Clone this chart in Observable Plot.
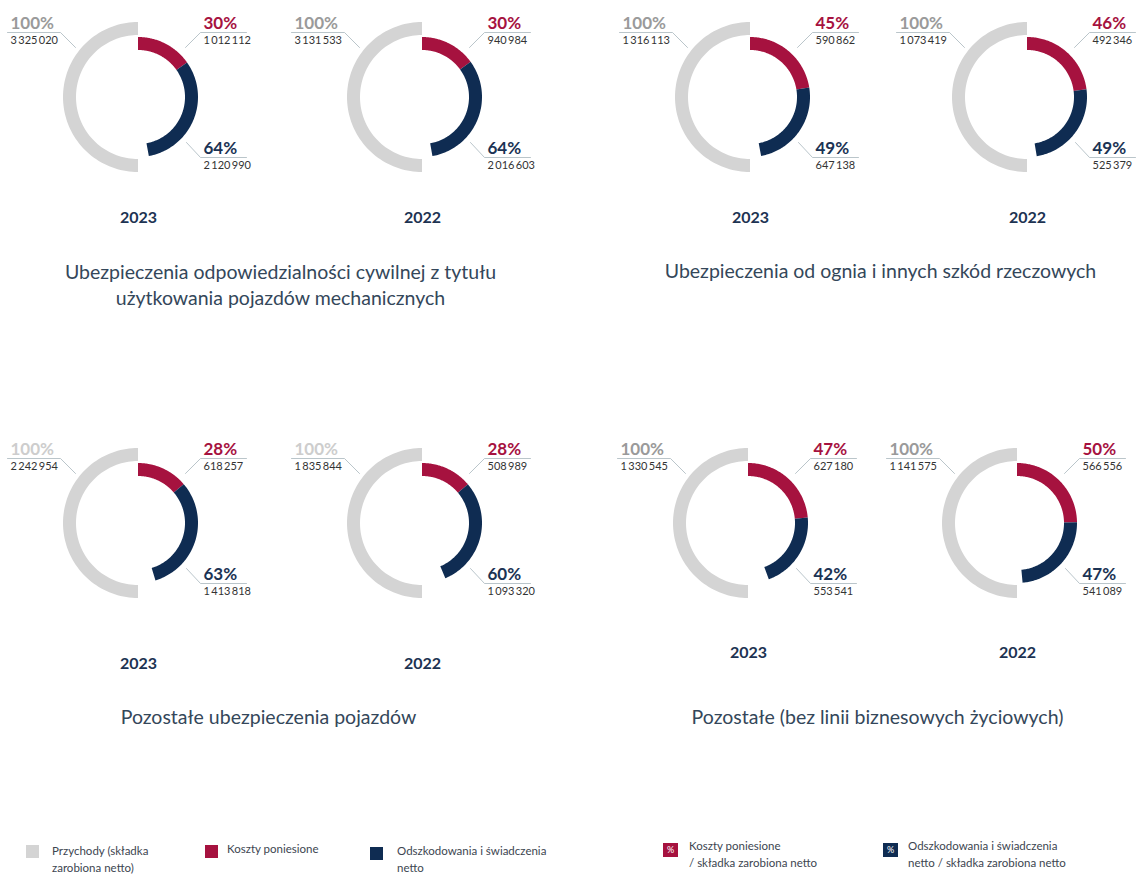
<!DOCTYPE html>
<html>
<head>
<meta charset="utf-8">
<script src="https://cdn.jsdelivr.net/npm/d3@7"></script>
<script src="https://cdn.jsdelivr.net/npm/@observablehq/plot@0.6"></script>
<style>
  html, body { margin: 0; padding: 0; background: #fff; }
  body { width: 1136px; height: 877px; position: relative; overflow: hidden; font-family: Lato, "Noto Sans", sans-serif; }
  #chart { position: absolute; left: 0; top: 0; }
  .lg { position: absolute; font-size: 11.5px; color: #3c4550; line-height: 17px; white-space: nowrap; }
  .sw { position: absolute; width: 13px; height: 13px; }
  .swp { position: absolute; width: 15px; height: 14px; color: #fff; font-size: 9px; line-height: 14px; text-align: center; }
</style>
</head>
<body>
<div id="chart"></div>
<div id="legend"></div>
<script>
// ---- data ----
const groups = [
  "Ubezpieczenia odpowiedzialności cywilnej z tytułu\nużytkowania pojazdów mechanicznych",
  "Ubezpieczenia od ognia i innych szkód rzeczowych",
  "Pozostałe ubezpieczenia pojazdów",
  "Pozostałe (bez linii biznesowych życiowych)"
];
const years = ["2023", "2022"];
// order: group0-2023, group0-2022, group1-2023, group1-2022, ...
const revenue = [3325020, 3131533, 1316113, 1073419, 2242954, 1835844, 1330545, 1141575];
const costs   = [1012112,  940984,  590862,  492346,  618257,  508989,  627180,  566556];
const claims  = [2120990, 2016603,  647138,  525379, 1413818, 1093320,  553541,  541089];
const costPct  = [30, 30, 45, 46, 28, 28, 47, 50];
const claimPct = [64, 64, 49, 49, 63, 60, 42, 47];
const kinds = ["Przychody (składka zarobiona netto)", "Koszty poniesione", "Odszkodowania i świadczenia netto"];

// ---- layout ----
const W = 1136, H = 820;
const cxs = [138, 422, 750, 1027, 138, 422, 748, 1017];
const cys = [97, 97, 97, 97, 523, 523, 523, 523];
const yearY = [222, 222, 222, 222, 668, 668, 657, 657];
const titleX = [280, 880, 268, 877];
const titleY = [274, 273, 719, 719];
const colors = ["#d4d4d4", "#a6123f", "#0f2c52"];
const revLabelColor = [ "#9a9a9a", "#9a9a9a", "#9a9a9a", "#9a9a9a", "#cdcdcd", "#cdcdcd", "#9a9a9a", "#9a9a9a"];

const fmt = v => String(v).replace(/\B(?=(\d{3})+(?!\d))/g, "\u2009");

// arc points
const arcPts = [];
const N = 80;
function addArc(id, kind, cx, cy, a0, a1, r0, r1) {
  for (let k = 0; k <= N; k++) {
    const t = (a0 + (a1 - a0) * k / N) * Math.PI / 180;
    arcPts.push({id, kind,
      x1: cx + r1 * Math.sin(t), y1: cy - r1 * Math.cos(t),
      x2: cx + r0 * Math.sin(t), y2: cy - r0 * Math.cos(t)});
  }
}
const leaders = [];
const labels = [];
revenue.forEach((rev, i) => {
  const cx = cxs[i], cy = cys[i];
  const aCost = costs[i] / rev * 180;
  const aClaim = claims[i] / rev * 180;
  addArc(i + "r", kinds[0], cx, cy, 180, 360, 62, 75);
  addArc(i + "c", kinds[1], cx, cy, 0, aCost, 47, 60);
  addArc(i + "n", kinds[2], cx, cy, aCost, aCost + aClaim, 47, 60);
  // leader lines
  [[cx - 131, cy - 65], [cx - 78, cy - 65], [cx - 63, cy - 50]].forEach(p => leaders.push({id: i + "r", x: p[0], y: p[1]}));
  [[cx + 108, cy - 65], [cx + 62, cy - 65], [cx + 47, cy - 50]].forEach(p => leaders.push({id: i + "c", x: p[0], y: p[1]}));
  [[cx + 108, cy + 60], [cx + 62, cy + 60], [cx + 48, cy + 45]].forEach(p => leaders.push({id: i + "n", x: p[0], y: p[1]}));
  labels.push({x: cx - 128, y: cy - 69, t: "100%", c: revLabelColor[i], big: true});
  labels.push({x: cx - 128, y: cy - 54, t: fmt(rev), c: "#333", big: false});
  labels.push({x: cx + 65, y: cy - 69, t: costPct[i] + "%", c: colors[1], big: true});
  labels.push({x: cx + 65, y: cy - 54, t: fmt(costs[i]), c: "#333", big: false});
  labels.push({x: cx + 65, y: cy + 56, t: claimPct[i] + "%", c: "#1b3354", big: true});
  labels.push({x: cx + 65, y: cy + 71, t: fmt(claims[i]), c: "#333", big: false});
});
const yearLabels = revenue.map((_, i) => ({x: cxs[i], y: yearY[i], t: years[i % 2]}));
const titleLabels = groups.map((g, j) => ({x: titleX[j], y: titleY[j], t: g}));

const plot = Plot.plot({
  width: W, height: H,
  margin: 0,
  style: {fontFamily: "Lato, 'Noto Sans', sans-serif", background: "#fff", overflow: "visible"},
  x: {domain: [0, W], range: [0, W], axis: null},
  y: {domain: [0, H], range: [0, H], axis: null},
  color: {domain: kinds, range: colors},
  marks: [
    Plot.area(arcPts, {x1: "x1", y1: "y1", x2: "x2", y2: "y2", z: "id", fill: "kind", curve: "linear"}),
    Plot.line(leaders, {x: "x", y: "y", z: "id", stroke: "#a8b6bd", strokeWidth: 0.8, curve: "linear"}),
    Plot.text(labels.filter(d => d.big), {x: "x", y: "y", text: "t", fill: "c", fontSize: 17, fontWeight: 700, textAnchor: "start", lineAnchor: "bottom"}),
    Plot.text(labels.filter(d => !d.big), {x: "x", y: "y", text: "t", fill: "c", fontSize: 11, textAnchor: "start", lineAnchor: "bottom"}),
    Plot.text(yearLabels, {x: "x", y: "y", text: "t", fill: "#1d3352", fontSize: 16, fontWeight: 700, textAnchor: "middle", lineAnchor: "bottom"}),
    Plot.text(titleLabels, {x: "x", y: "y", text: "t", fill: "#34475a", fontSize: 19.5, textAnchor: "middle", lineAnchor: "top", dy: -14, lineHeight: 1.33})
  ]
});
document.getElementById("chart").appendChild(plot);

// ---- legend ----
const legendItems = [
  {type: "sw", color: colors[0], sx: 26, sy: 845, tx: 52, ty: 842, text: "Przychody (składka<br>zarobiona netto)"},
  {type: "sw", color: colors[1], sx: 205, sy: 845, tx: 227, ty: 840, text: "Koszty poniesione"},
  {type: "sw", color: colors[2], sx: 370, sy: 847, tx: 397, ty: 842, text: "Odszkodowania i świadczenia<br>netto"},
  {type: "swp", color: colors[1], sx: 663, sy: 843, tx: 689, ty: 837, text: "Koszty poniesione<br>/ składka zarobiona netto"},
  {type: "swp", color: colors[2], sx: 883, sy: 843, tx: 908, ty: 837, text: "Odszkodowania i świadczenia<br>netto / składka zarobiona netto"}
];
const lg = document.getElementById("legend");
legendItems.forEach(it => {
  const s = document.createElement("div");
  s.className = it.type;
  s.style.left = it.sx + "px"; s.style.top = it.sy + "px"; s.style.background = it.color;
  if (it.type === "swp") s.textContent = "%";
  lg.appendChild(s);
  const t = document.createElement("div");
  t.className = "lg";
  t.style.left = it.tx + "px"; t.style.top = it.ty + "px";
  t.innerHTML = it.text;
  lg.appendChild(t);
});
</script>
</body>
</html>
